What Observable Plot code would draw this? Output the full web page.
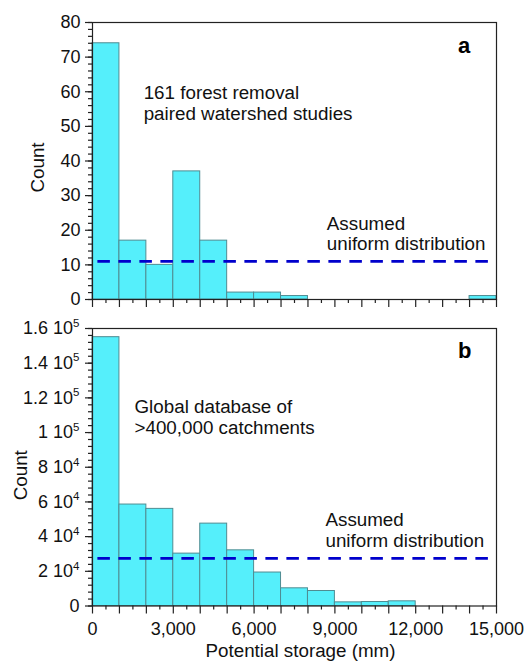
<!DOCTYPE html>
<html><head><meta charset="utf-8">
<script src="https://cdn.jsdelivr.net/npm/d3@7"></script>
<script src="https://cdn.jsdelivr.net/npm/@observablehq/plot@0.6"></script>
<style>
body{margin:0;background:#fff;}
#chart{width:528px;height:662px;overflow:hidden;}
#chart svg{display:block;}
</style></head><body><div id="chart"></div>
<script>
// ---- data ----
const binStarts = [0,1000,2000,3000,4000,5000,6000,7000,8000,9000,10000,11000,12000,13000,14000];
const binEnds   = [1000,2000,3000,4000,5000,6000,7000,8000,9000,10000,11000,12000,13000,14000,15000];
const countsA = [74,17,10,37,17,2,2,1,0,0,0,0,0,0,1];
const countsB = [155000,58500,56000,30200,47500,32100,19300,10200,8650,2100,2300,2700,0,0,0];
const uniformA = 11;
const uniformB = 27500;
const uniformSpan = [200, 14900];

const xTickValues = [0,3000,6000,9000,12000,15000];
const xTickLabels = ["0","3,000","6,000","9,000","12,000","15,000"];
const yTickValuesA = [0,10,20,30,40,50,60,70,80];
const yTickLabelsA = ["0","10","20","30","40","50","60","70","80"];
const yTickValuesB = [0,20000,40000,60000,80000,100000,120000,140000,160000];
const yTickLabelsB = ["0","2 10\u2074","4 10\u2074","6 10\u2074","8 10\u2074","1 10\u2075","1.2 10\u2075","1.4 10\u2075","1.6 10\u2075"];

const noteA = "161 forest removal\npaired watershed studies";
const noteB = "Global database of\n>400,000 catchments";
const uniformNote = "Assumed\nuniform distribution";
const yTitle = "Count";
const xTitle = "Potential storage (mm)";

// ---- styling ----
const FONT = "'Liberation Sans', Arial, Helvetica, sans-serif";
const FILL = "#55effb";
const EDGE = "#4f8c92";
const DASH = "#0000cc";
const INK = "#222";
const TXT = 18.8;

function panel(o) {
  const bars = binStarts.map((s, i) => ({x1: s, x2: binEnds[i], y: o.counts[i]})).filter(d => d.y > 0);
  const xMajor = d3.range(0, 15001, 1000);
  const xMinor = d3.range(500, 15000, 1000);
  const yMinor = d3.range(o.yDomain[0], o.yDomain[1] + 1e-9, o.minorStep);
  const marks = [
    Plot.rect(bars, {x1: "x1", x2: "x2", y1: 0, y2: "y", fill: FILL, stroke: EDGE, strokeWidth: 1}),
    Plot.ruleY([o.uniform], {x1: uniformSpan[0], x2: uniformSpan[1], stroke: DASH, strokeWidth: 2.8, strokeDasharray: "12.5,8.5"}),
    Plot.frame({stroke: INK, strokeWidth: 1.2}),
    Plot.axisX(xMinor, {tickSize: 4, tickFormat: () => "", label: null, stroke: INK, strokeWidth: 1.2}),
    Plot.axisX(xMajor, {tickSize: 8, tickPadding: 8, label: null, stroke: INK, strokeWidth: 1.2, fill: "#111",
      tickFormat: d => o.showX ? (xTickValues.includes(d) ? xTickLabels[xTickValues.indexOf(d)] : "") : ""}),
    Plot.axisY(yMinor, {tickSize: 4, tickFormat: () => "", label: null, stroke: INK, strokeWidth: 1.2}),
    Plot.axisY(o.yTicks, {tickSize: 7, tickPadding: o.yPad, label: null, stroke: INK, strokeWidth: 1.2, fill: "#111",
      tickFormat: d => o.yLabels[o.yTicks.indexOf(d)]}),
    Plot.text([o.note], {x: o.noteX, y: o.noteY, text: d => d, textAnchor: "start", lineAnchor: "bottom", lineHeight: 1.12, fontSize: TXT, fill: "#111"}),
    Plot.text([uniformNote], {x: o.uNoteX, y: o.uNoteY, text: d => d, textAnchor: "start", lineAnchor: "bottom", lineHeight: 1.1, fontSize: TXT, fill: "#111"}),
    Plot.text([o.letter], {x: o.letterX, y: o.letterY, text: d => d, textAnchor: "middle", lineAnchor: "bottom", fontSize: 22, fontWeight: "bold", fill: "#000"}),
    Plot.text([yTitle], {frameAnchor: "left", rotate: -90, dx: o.countDx, dy: o.countDy, textAnchor: "middle", lineAnchor: "middle", fontSize: TXT, fill: "#111"})
  ];
  if (o.showX) {
    marks.push(Plot.text([xTitle], {frameAnchor: "bottom", dx: 6, dy: 51, textAnchor: "middle", lineAnchor: "bottom", fontSize: TXT, fill: "#111"}));
  }
  const svg = Plot.plot({
    width: 528, height: o.height,
    marginLeft: 92, marginRight: 32, marginTop: o.marginTop, marginBottom: o.marginBottom,
    style: {fontFamily: FONT, fontSize: "18px", color: "#111", background: "white", overflow: "visible"},
    x: {domain: [0, 15000]},
    y: {domain: o.yDomain},
    marks
  });
  // render "10⁴"/"10⁵" with a true raised, smaller exponent
  const supMap = {"\u2074": "4", "\u2075": "5"};
  d3.select(svg).selectAll("text").each(function() {
    const t = this.textContent;
    const m = t.match(/^(.* 10)([\u2074\u2075])$/);
    if (!m) return;
    const sel = d3.select(this);
    sel.text(null);
    sel.append("tspan").text(m[1]);
    sel.append("tspan").attr("dy", -7.5).attr("font-size", "11.5px").text(supMap[m[2]]);
  });
  return svg;
}

const chart = document.getElementById("chart");
chart.append(panel({
  counts: countsA, yDomain: [0, 80], minorStep: 2, yTicks: yTickValuesA, yLabels: yTickLabelsA, yPad: 5,
  uniform: uniformA, note: noteA, noteX: 1900, noteY: 51.7, uNoteX: 8700, uNoteY: 14.2,
  letter: "a", letterX: 13800, letterY: 71.3, showX: false,
  height: 313, marginTop: 22, marginBottom: 14, countDx: -55, countDy: 6.5
}));
chart.append(panel({
  counts: countsB, yDomain: [0, 160000], minorStep: 4000, yTicks: yTickValuesB, yLabels: yTickLabelsB, yPad: 6,
  uniform: uniformB, note: noteB, noteX: 1560, noteY: 99400, uNoteX: 8650, uNoteY: 34000,
  letter: "b", letterX: 13820, letterY: 142900, showX: true,
  height: 349, marginTop: 15, marginBottom: 56.5, countDx: -72, countDy: 8
}));
</script></body></html>
